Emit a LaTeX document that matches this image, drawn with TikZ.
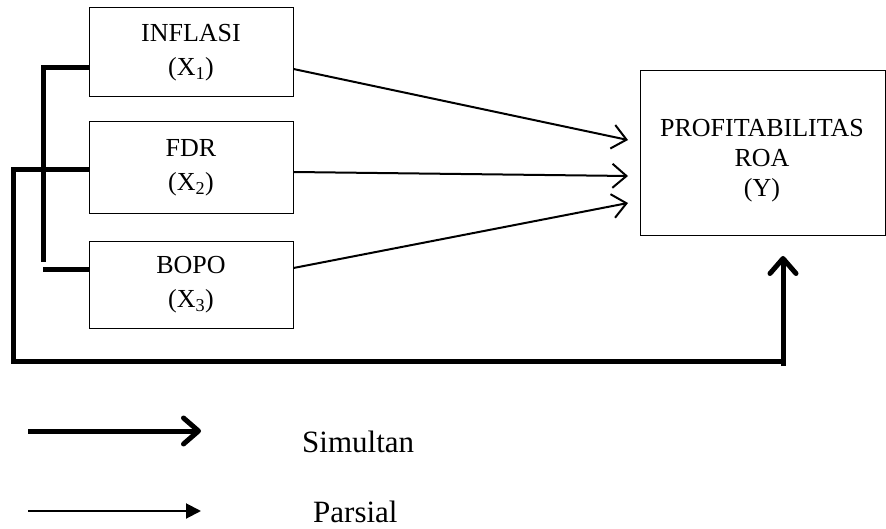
\documentclass[tikz,border=0pt]{standalone}
\usepackage{fontspec}
\setmainfont{Liberation Serif}
\usetikzlibrary{arrows.meta}
\tikzset{
  varbox/.style={draw, line width=1pt, minimum width=204pt, inner sep=0pt, align=center,
    font=\fontsize{26}{34}\selectfont},
  ybox/.style={draw, line width=1pt, minimum width=245pt, minimum height=165pt, inner sep=0pt},
  ytext/.style={align=center, inner sep=0pt, font=\fontsize{26}{30}\selectfont},
  thinarrow/.style={line width=2pt, -{Straight Barb[length=14pt,width=24pt]}},
  thickline/.style={line width=5pt, line join=miter},
  thickarrow/.style={line width=5pt, -{Straight Barb[length=15pt,width=26pt,round]}},
  legtext/.style={anchor=base west, inner sep=0pt, font=\fontsize{31}{31}\selectfont},
  legthin/.style={line width=2pt, -{Triangle[length=15pt,width=15pt]}}
}
\begin{document}
\begin{tikzpicture}[x=1pt,y=-1pt]
\useasboundingbox (0,0) rectangle (886,529);
% boxes
\node[varbox, minimum height=89pt] (I) at (191,52.5) {INFLASI\\(X\textsubscript{1})};
\node[varbox, minimum height=92pt] (F) at (191,168) {FDR\\(X\textsubscript{2})};
\node[varbox, minimum height=86pt] (B) at (191,285) {BOPO\\(X\textsubscript{3})};
\node[ybox] (Y) at (762.5,153.5) {};
\node[ytext] (Yt) at (762,161) {PROFITABILITAS\\ROA\\(Y)};
% coordinates
\coordinate (t1) at (628,140);
\coordinate (t2) at (628,176);
\coordinate (t3) at (628,203);
\coordinate (b1) at (43,262);
\coordinate (b2) at (43,270);
\coordinate (c1) at (13,361);
\coordinate (c2) at (785.5,361);
\coordinate (c3) at (783,366);
\coordinate (tipY) at (783,256);
% partial arrows
\draw[thinarrow] ([yshift=-16.5pt]I.east) -- (t1);
\draw[thinarrow] ([yshift=-4pt]F.east) -- (t2);
\draw[thinarrow] ([yshift=17pt]B.east) -- (t3);
% simultaneous bracket
\draw[thickline] ([yshift=-15.5pt]I.west) -| (b1);
\draw[thickline] ([yshift=15pt]B.west) -- (b2);
\draw[thickline] ([yshift=-2pt]F.west) -| (c1) -- (c2);
\draw[thickarrow] (c3) -- (tipY);
% legend
\coordinate (l1a) at (28,431);
\coordinate (l1b) at (201,431);
\coordinate (l2a) at (28,511);
\coordinate (l2b) at (201,511);
\draw[thickarrow] (l1a) -- (l1b);
\draw[legthin] (l2a) -- (l2b);
\node[legtext] (sim) at (302,452) {Simultan};
\node[legtext] (par) at (313,522) {Parsial};
\end{tikzpicture}
\end{document}
